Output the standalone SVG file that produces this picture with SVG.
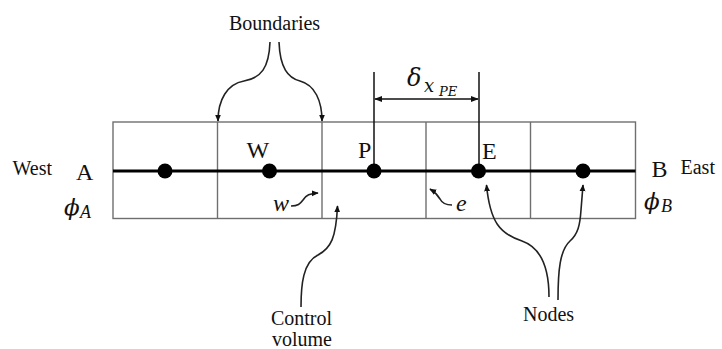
<svg xmlns="http://www.w3.org/2000/svg" width="722" height="349" viewBox="0 0 722 349">
  <style>
    .lbl { font-family: "Liberation Serif", "Times New Roman", "DejaVu Serif", serif; font-size: 20px; fill: #111; }
    .big { font-family: "Liberation Serif", "Times New Roman", "DejaVu Serif", serif; font-size: 24px; fill: #111; }
    .math { font-family: "DejaVu Serif", "Liberation Serif", serif; font-style: italic; fill: #111; }
    .mit { font-family: "Liberation Serif", "Times New Roman", "DejaVu Serif", serif; font-style: italic; fill: #111; }
    .grid { fill: none; stroke: #6f6f6f; stroke-width: 1.4; }
    .axis { stroke: #000; stroke-width: 3; }
    .node { fill: #000; }
    .dim { stroke: #111; stroke-width: 1.5; fill: none; }
    .curve { stroke: #222; stroke-width: 1.6; fill: none; marker-end: url(#tip); }
  </style>
  <defs>
    <marker id="tip" viewBox="0 0 10 10" refX="9" refY="5" markerUnits="userSpaceOnUse" markerWidth="7" markerHeight="7" orient="auto">
      <path d="M0,0.8 L10,5 L0,9.2 Z" fill="#111"/>
    </marker>
    <marker id="tipBoth" viewBox="0 0 10 10" refX="9" refY="5" markerUnits="userSpaceOnUse" markerWidth="8" markerHeight="8" orient="auto-start-reverse">
      <path d="M0,1.2 L10,5 L0,8.8 Z" fill="#111"/>
    </marker>
  </defs>

  <!-- control-volume grid -->
  <g id="grid">
    <rect class="grid" x="113" y="122" width="522.5" height="96.5"/>
    <line class="grid" x1="217.5" y1="122" x2="217.5" y2="218.5"/>
    <line class="grid" x1="322" y1="122" x2="322" y2="218.5"/>
    <line class="grid" x1="426" y1="122" x2="426" y2="218.5"/>
    <line class="grid" x1="530.5" y1="122" x2="530.5" y2="218.5"/>
    <line class="axis" x1="113" y1="171" x2="635.5" y2="171"/>
  </g>

  <!-- dimension δx_PE -->
  <g id="dimension">
    <line class="dim" x1="374" y1="72" x2="374" y2="171"/>
    <line class="dim" x1="479" y1="72" x2="479" y2="171"/>
    <line class="dim" x1="375" y1="99" x2="478" y2="99" marker-start="url(#tipBoth)" marker-end="url(#tipBoth)"/>
    <text class="math" x="407" y="86" font-size="24">δ</text>
    <text class="math" x="424" y="92" font-size="18">x</text>
    <text class="math" x="439" y="96" font-size="13">PE</text>
  </g>

  <!-- nodes -->
  <g id="node-A"><circle class="node" cx="165" cy="171" r="7.5"/></g>
  <g id="node-W"><circle class="node" cx="269.5" cy="171" r="7.5"/><text class="big" x="246.5" y="158">W</text></g>
  <g id="node-P"><circle class="node" cx="374" cy="171" r="7.5"/><text class="big" x="358" y="158">P</text></g>
  <g id="node-E"><circle class="node" cx="478.5" cy="171" r="7.5"/><text class="big" x="482" y="159">E</text></g>
  <g id="node-B"><circle class="node" cx="583" cy="171" r="7.5"/></g>

  <!-- boundary values -->
  <g id="west">
    <text class="lbl" x="12.5" y="175">West</text>
    <text class="big" x="76" y="180">A</text>
    <text class="math" x="64" y="215" font-size="23">ϕ</text>
    <text class="mit" x="80" y="217.5" font-size="18">A</text>
  </g>
  <g id="east">
    <text class="big" x="651.5" y="177">B</text>
    <text class="lbl" x="680.5" y="173.5">East</text>
    <text class="math" x="644" y="209" font-size="23">ϕ</text>
    <text class="mit" x="661" y="211.5" font-size="18">B</text>
  </g>

  <!-- face labels -->
  <g id="face-w"><text class="mit" x="273" y="211" font-size="24">w</text></g>
  <g id="face-e"><text class="mit" x="456" y="211" font-size="24">e</text></g>

  <!-- callout labels -->
  <g id="label-boundaries"><text class="lbl" x="229" y="30">Boundaries</text></g>
  <g id="label-control"><text class="lbl" x="301.5" y="325" text-anchor="middle">Control</text><text class="lbl" x="302" y="346" text-anchor="middle">volume</text></g>
  <g id="label-nodes"><text class="lbl" x="548.5" y="321" text-anchor="middle">Nodes</text></g>

  <!-- connectors -->
  <g id="connectors">
    <path class="curve" d="M270,42 C269,68 261,78 244,81 C227,84 218,100 218,121"/>
    <path class="curve" d="M279,42 C280,68 288,78 300,81 C315,85 322,101 322,121"/>
    <path class="curve" d="M291,206 C298,206 300,204 303,200 C306,195 310,193.5 318,193"/>
    <path class="curve" d="M452,205 C445,205 442,203 440,199 C437,194 435,192 430,189"/>
    <path class="curve" d="M301,307 C301,285 303,262 318,255 C331,248 336,238 337.5,206"/>
    <path class="curve" d="M549,297 C549,270 542,248 522,241 C500,234 490,222 486.5,185"/>
    <path class="curve" d="M558,300 C558,270 560,250 570,241 C578,234 580,225 581,210 L583,185"/>
  </g>
</svg>
